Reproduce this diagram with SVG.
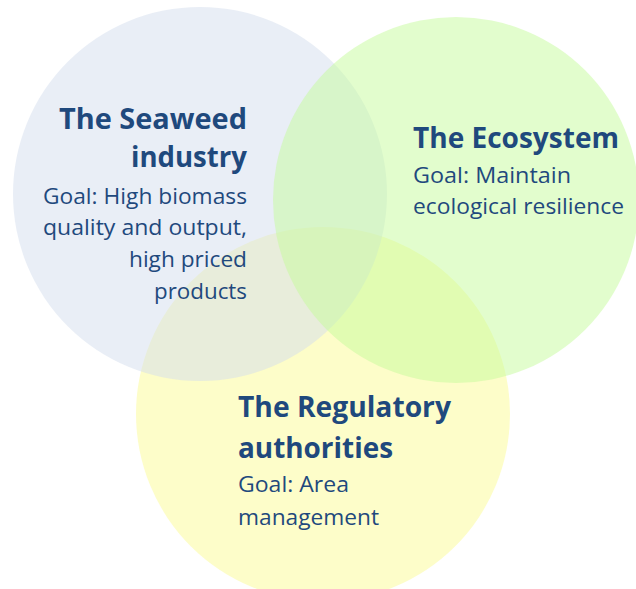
<svg xmlns="http://www.w3.org/2000/svg" width="636" height="589" viewBox="0 0 636 589">
<style>
.c{fill-opacity:0.5}
.h{font-family:"Open Sans","Noto Sans","Liberation Sans",sans-serif;font-weight:bold;font-size:28px;fill:#1F497D}
.b{font-family:"Open Sans","Noto Sans","Liberation Sans",sans-serif;font-size:21px;fill:#1F497D}
</style>
<rect width="636" height="589" fill="#FFFFFF"/>
<g id="circles">
<circle id="c-reg" class="c" cx="323" cy="414" r="187" fill="#FBFB93"/>
<circle id="c-sea" class="c" cx="200" cy="194" r="187" fill="#D3DDED"/>
<circle id="c-eco" class="c" cx="456" cy="200" r="183" fill="#C5FB9B"/>
</g>
<g id="node-seaweed" text-anchor="end">
<text class="h" x="247" y="129" textLength="188" lengthAdjust="spacingAndGlyphs">The Seaweed</text>
<text class="h" x="247" y="167" textLength="116" lengthAdjust="spacingAndGlyphs">industry</text>
<text class="b" x="247" y="204" textLength="204" lengthAdjust="spacingAndGlyphs">Goal: High biomass</text>
<text class="b" x="247" y="235" textLength="204" lengthAdjust="spacingAndGlyphs">quality and output,</text>
<text class="b" x="247" y="267" textLength="118" lengthAdjust="spacingAndGlyphs">high priced</text>
<text class="b" x="247" y="299" textLength="93" lengthAdjust="spacingAndGlyphs">products</text>
</g>
<g id="node-ecosystem">
<text class="h" x="413" y="148" textLength="206" lengthAdjust="spacingAndGlyphs">The Ecosystem</text>
<text class="b" x="413" y="183" textLength="158" lengthAdjust="spacingAndGlyphs">Goal: Maintain</text>
<text class="b" x="413" y="214" textLength="211" lengthAdjust="spacingAndGlyphs">ecological resilience</text>
</g>
<g id="node-regulatory">
<text class="h" x="238" y="417" textLength="213" lengthAdjust="spacingAndGlyphs">The Regulatory</text>
<text class="h" x="238" y="458" textLength="155" lengthAdjust="spacingAndGlyphs">authorities</text>
<text class="b" x="238" y="492" textLength="111" lengthAdjust="spacingAndGlyphs">Goal: Area</text>
<text class="b" x="238" y="525" textLength="141" lengthAdjust="spacingAndGlyphs">management</text>
</g>
<g id="connectors"/>
</svg>
